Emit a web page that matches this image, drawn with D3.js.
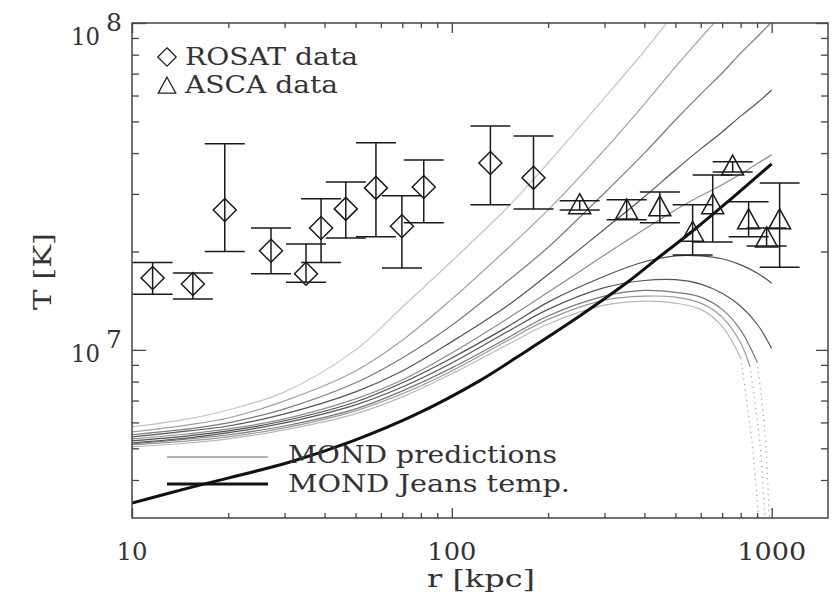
<!DOCTYPE html>
<html><head><meta charset="utf-8">
<script src="https://cdn.jsdelivr.net/npm/d3@7"></script>
<style>
html,body{margin:0;padding:0;background:#fff;}
svg{display:block;}
text{font-family:"DejaVu Serif","Liberation Serif",serif;fill:#333;font-size:25px;}
</style></head><body>
<svg id="chart" width="834" height="609"></svg>
<script>
// Radius grid (kpc) shared by the MOND prediction curves
const radii = [10,15,20,30,50,70,100,150,200,300,400,500,600,700,800,900,1000];

// MOND predicted temperature profiles, 10^6 K, sampled on `radii`
const predRising1 = [5.81,6.15,6.55,7.44,10.0,13.5,18.7,27.4,37.3,59.0,82.1,108,133];
const predRising2 = [5.61,5.90,6.19,6.98,8.62,10.7,14.3,20.5,26.8,40.9,56.5,73.4,90.0,106.5,124.4];
const predRising3 = [5.50,5.73,5.98,6.60,7.93,9.45,11.9,16.3,20.6,30.2,40.0,50.5,60.6,70.3,80.9,90.6,100.7];
const predRising4 = [5.42,5.65,5.85,6.37,7.44,8.62,10.6,13.7,17.0,23.4,29.4,35.5,41.2,46.4,51.9,56.9,62.4];
const predRising5 = [5.34,5.54,5.73,6.15,7.08,8.09,9.79,12.5,15.0,19.5,23.4,26.8,29.6,32.0,34.5,37.1,39.5];
const predFalling1 = [5.27,5.46,5.65,6.07,6.93,7.93,9.45,11.8,14.0,16.8,18.6,19.4,19.4,19.0,18.2,17.2,16.0];
const predFalling2 = [5.19,5.38,5.58,5.98,6.79,7.70,9.12,11.4,13.3,15.5,16.3,16.4,15.9,14.9,13.6,12.0,10.1];
const predFalling3 = [5.16,5.34,5.50,5.85,6.60,7.49,8.81,10.9,12.7,14.6,15.2,15.0,14.5,13.3,11.5,9.19];
const predFalling4 = [5.12,5.27,5.42,5.77,6.51,7.34,8.62,10.7,12.4,14.2,14.6,14.5,13.9,12.6,10.5,8.93];
const predFalling4R = [10,15,20,30,50,70,100,150,200,300,400,500,600,700,800,854];
const predFalling5 = [5.05,5.19,5.34,5.69,6.37,7.18,8.45,10.4,12.0,13.7,14.1,13.9,13.3,11.8,9.45];

// Steep outer drops of the falling profiles
const tail3R = [900,951,986],  tail3T = [9.19,5.69,2.81];
const tail4R = [854,917,957],  tail4T = [8.93,5.30,2.81];
const tail5R = [800,866,917],  tail5T = [9.45,5.30,2.81];

// MOND Jeans temperature
const jeansR = [10,15.5,31.2,49.1,77.8,122,175,251,360,447,566,723,1000];
const jeansT = [3.40,3.81,4.54,5.27,6.37,8.04,10.07,12.7,16.3,19.3,23.1,28.2,37.1];

// ROSAT deprojected temperatures (10^6 K) with lower / upper limits
const rosatR  = [11.6,15.5,19.5,27.2,35.0,39.0,46.6,57.9,69.8,81.7,132,180];
const rosatT  = [16.6,15.9,26.8,20.1,17.1,23.6,27.0,31.3,23.9,31.5,37.3,33.6];
const rosatLo = [14.8,14.3,20.0,17.1,16.1,18.5,22.0,22.2,17.8,24.5,27.8,27.0];
const rosatHi = [18.5,17.2,42.7,23.6,21.1,29.0,32.6,43.0,29.6,38.1,48.4,45.1];

// ASCA temperatures (10^6 K)
const ascaR  = [251,352,447,566,654,755,847,964,1059];
const ascaT  = [27.8,26.8,27.4,22.9,27.8,36.5,25.0,22.0,25.0];
const ascaLo = [26.8,25.0,24.5,19.5,21.4,35.0,22.2,20.8,17.9];
const ascaHi = [28.6,28.8,30.4,27.8,34.3,37.6,28.4,23.6,32.4];

const xMajor = [10,100,1000];
const xMinor = [20,30,40,50,60,70,80,90,200,300,400,500,600,700,800,900];
const yMajor = [1e7,1e8];
const yMinor = [4e6,5e6,6e6,7e6,8e6,9e6,2e7,3e7,4e7,5e7,6e7,7e7,8e7,9e7];
const legendLabels = ["ROSAT data","ASCA data","MOND predictions","MOND Jeans temp."];

const predictions = [
  {T:predRising1, color:"#c4c4c4"},
  {T:predRising2, color:"#a0a0a0"},
  {T:predRising3, color:"#7a7a7a"},
  {T:predRising4, color:"#555"},
  {T:predRising5, color:"#8c8c8c"},
  {T:predFalling1, color:"#505050"},
  {T:predFalling2, color:"#555"},
  {T:predFalling3, color:"#777"},
  {T:predFalling4, r:predFalling4R, color:"#999"},
  {T:predFalling5, color:"#b8b8b8"}
];
const tails = [
  {r:tail3R, T:tail3T}, {r:tail4R, T:tail4T}, {r:tail5R, T:tail5T}
];

const svg = d3.select("#chart");
const x = d3.scaleLog().domain([10,1500]).range([132,828]);
const y = d3.scaleLog().domain([3.06e6,1e8]).range([518,23]);
const MK = 1e6;
const [x0,x1] = x.range(), [y0,y1] = [y.range()[1], y.range()[0]];

svg.append("defs").append("clipPath").attr("id","plot")
  .append("rect").attr("x",x0).attr("y",y0).attr("width",x1-x0).attr("height",y1-y0);

const line = d3.line().x(d=>x(d[0])).y(d=>y(d[1]*MK)).curve(d3.curveCatmullRom.alpha(0.5));
const curves = svg.append("g").attr("clip-path","url(#plot)");

predictions.forEach(p=>{
  const rs = p.r || radii;
  const pts = p.T.map((t,i)=>[rs[i],t]);
  curves.append("path").attr("d",line(pts)).attr("fill","none")
    .attr("stroke",p.color).attr("stroke-width",1.2);
});
tails.forEach(t=>{
  const pts = t.r.map((r,i)=>[r,t.T[i]]);
  curves.append("path").attr("d",line(pts)).attr("fill","none")
    .attr("stroke","#aaa").attr("stroke-width",1.3).attr("stroke-dasharray","1.3,4");
});
curves.append("path").attr("d",line(jeansR.map((r,i)=>[r,jeansT[i]])))
  .attr("fill","none").attr("stroke","#111").attr("stroke-width",3);

// Axis ticks on all four sides, pointing inward
function ticks(axisFn, scale, values, len, transform){
  svg.append("g").attr("transform",transform)
    .call(axisFn(scale).tickValues(values).tickSize(len).tickFormat(""))
    .call(g=>{g.select(".domain").remove(); g.selectAll("line").attr("stroke","#444").attr("stroke-width",1.3);});
}
ticks(d3.axisBottom, x, xMajor, -10, `translate(0,${y1})`);
ticks(d3.axisBottom, x, xMinor, -5, `translate(0,${y1})`);
ticks(d3.axisTop, x, xMajor, -10, `translate(0,${y0})`);
ticks(d3.axisTop, x, xMinor, -5, `translate(0,${y0})`);
ticks(d3.axisLeft, y, yMajor, -14, `translate(${x0},0)`);
ticks(d3.axisLeft, y, yMinor, -7, `translate(${x0},0)`);
ticks(d3.axisRight, y, yMajor, -12, `translate(${x1},0)`);
ticks(d3.axisRight, y, yMinor, -7, `translate(${x1},0)`);

svg.append("rect").attr("x",x0).attr("y",y0).attr("width",x1-x0).attr("height",y1-y0)
  .attr("fill","none").attr("stroke","#444").attr("stroke-width",1.5);

// Tick labels
const xLabW = {10:31,100:49,1000:69};
xMajor.forEach(v=>{
  svg.append("text").attr("x",x(v)).attr("y",560).attr("text-anchor","middle")
    .attr("textLength",xLabW[v]).attr("lengthAdjust","spacingAndGlyphs").text(String(v));
});
yMajor.forEach(v=>{
  const yy = Math.max(y(v)+12, 45);
  svg.append("text").attr("x",100).attr("y",yy).attr("text-anchor","end")
    .attr("textLength",29).attr("lengthAdjust","spacingAndGlyphs").text("10");
  svg.append("text").attr("x",106).attr("y",yy-14).text(String(Math.round(Math.log10(v))));
});

svg.append("text").attr("x",(x0+x1)/2+1).attr("y",587).attr("text-anchor","middle")
  .attr("textLength",108).attr("lengthAdjust","spacingAndGlyphs").text("r [kpc]");
svg.append("text").attr("transform",`translate(51,${(y0+y1)/2+1}) rotate(-90)`)
  .attr("text-anchor","middle").attr("textLength",77).attr("lengthAdjust","spacingAndGlyphs").text("T [K]");

// Data points with error bars
const diamond = "M0,-11.5L11.5,0L0,11.5L-11.5,0Z";
const triangle = "M0,-11L11,9L-11,9Z";
function points(R,T,Lo,Hi,shape){
  const g = svg.append("g");
  R.forEach((r,i)=>{
    const cx = x(r), cy = y(T[i]*MK), ylo = y(Lo[i]*MK), yhi = y(Hi[i]*MK);
    g.append("line").attr("x1",cx).attr("x2",cx).attr("y1",ylo).attr("y2",yhi);
    g.append("line").attr("x1",cx-20).attr("x2",cx+20).attr("y1",ylo).attr("y2",ylo);
    g.append("line").attr("x1",cx-20).attr("x2",cx+20).attr("y1",yhi).attr("y2",yhi);
    g.append("path").attr("d",shape).attr("transform",`translate(${cx},${cy})`).attr("fill","none");
  });
  g.selectAll("line,path").attr("stroke","#1a1a1a").attr("stroke-width",1.5);
}
points(rosatR,rosatT,rosatLo,rosatHi,diamond);
points(ascaR,ascaT,ascaLo,ascaHi,triangle);

// Legend
const lg = svg.append("g");
lg.append("path").attr("d",diamond).attr("transform","translate(167,57) scale(0.8)")
  .attr("fill","none").attr("stroke","#222").attr("stroke-width",1.6);
lg.append("path").attr("d",triangle).attr("transform","translate(167,86) scale(0.8)")
  .attr("fill","none").attr("stroke","#222").attr("stroke-width",1.6);
lg.append("text").attr("x",185).attr("y",65).attr("textLength",173).attr("lengthAdjust","spacingAndGlyphs").text(legendLabels[0]);
lg.append("text").attr("x",185).attr("y",93).attr("textLength",153).attr("lengthAdjust","spacingAndGlyphs").text(legendLabels[1]);
lg.append("line").attr("x1",167).attr("x2",268).attr("y1",457).attr("y2",457).attr("stroke","#999").attr("stroke-width",1.5);
lg.append("line").attr("x1",167).attr("x2",268).attr("y1",484).attr("y2",484).attr("stroke","#111").attr("stroke-width",3);
lg.append("text").attr("x",288).attr("y",463).attr("textLength",269).attr("lengthAdjust","spacingAndGlyphs").text(legendLabels[2]);
lg.append("text").attr("x",288).attr("y",492).attr("textLength",282).attr("lengthAdjust","spacingAndGlyphs").text(legendLabels[3]);
</script>
</body></html>
